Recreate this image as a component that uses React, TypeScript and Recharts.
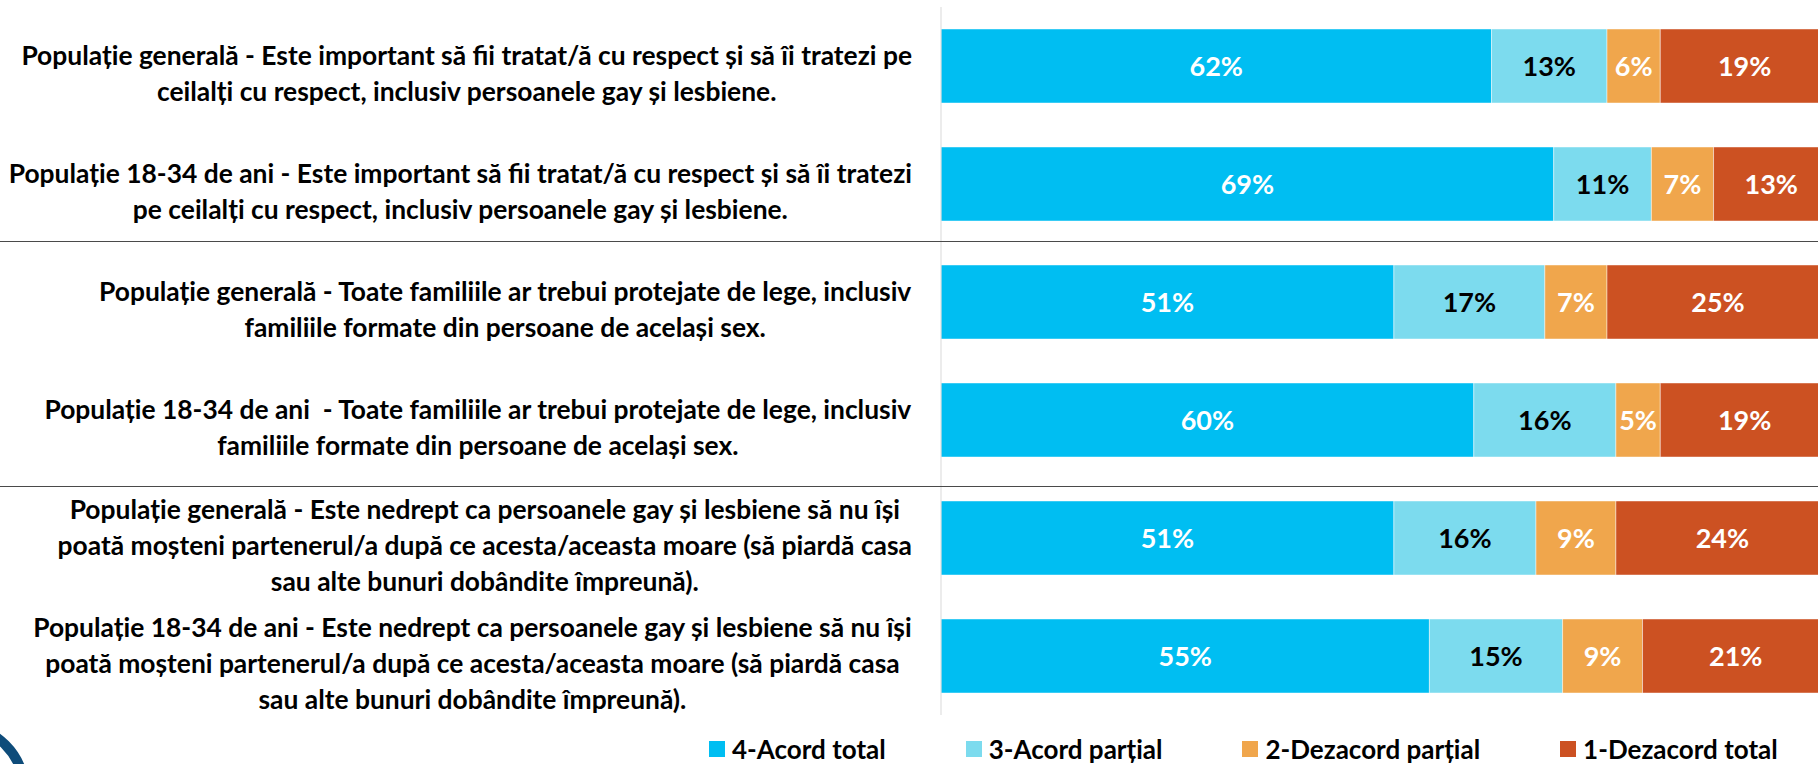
import { BarChart, Bar, XAxis, YAxis, LabelList, Legend } from 'recharts';

const categories = [
  'Populație generală - Este important să fii tratat/ă cu respect și să îi tratezi pe\nceilalți cu respect, inclusiv persoanele gay și lesbiene.',
  'Populație 18-34 de ani - Este important să fii tratat/ă cu respect și să îi tratezi\npe ceilalți cu respect, inclusiv persoanele gay și lesbiene.',
  'Populație generală - Toate familiile ar trebui protejate de lege, inclusiv\nfamiliile formate din persoane de același sex.',
  'Populație 18-34 de ani  - Toate familiile ar trebui protejate de lege, inclusiv\nfamiliile formate din persoane de același sex.',
  'Populație generală - Este nedrept ca persoanele gay și lesbiene să nu își\npoată moșteni partenerul/a după ce acesta/aceasta moare (să piardă casa\nsau alte bunuri dobândite împreună).',
  'Populație 18-34 de ani - Este nedrept ca persoanele gay și lesbiene să nu își\npoată moșteni partenerul/a după ce acesta/aceasta moare (să piardă casa\nsau alte bunuri dobândite împreună).',
];

const acordTotal = [62, 69, 51, 60, 51, 55];
const acordPartial = [13, 11, 17, 16, 16, 15];
const dezacordPartial = [6, 7, 7, 5, 9, 9];
const dezacordTotal = [19, 13, 25, 19, 24, 21];

const series = [
  { key: 'a4', name: '4-Acord total', color: '#00BEF2', text: '#ffffff' },
  { key: 'a3', name: '3-Acord parțial', color: '#7CDBEE', text: '#000000' },
  { key: 'a2', name: '2-Dezacord parțial', color: '#F0A64C', text: '#ffffff' },
  { key: 'a1', name: '1-Dezacord total', color: '#CC5122', text: '#ffffff' },
];

const data = categories.map((name, i) => ({
  name,
  a4: acordTotal[i],
  a3: acordPartial[i],
  a2: dezacordPartial[i],
  a1: dezacordTotal[i],
}));

const FONT = 'Lato, "Open Sans", sans-serif';
const LABEL_SIZE = 26.4;
const LABEL_RIGHT = 912;
const LINE_H = 36;

let ctx: CanvasRenderingContext2D | null = null;
function textWidth(s: string) {
  if (!ctx) ctx = document.createElement('canvas').getContext('2d');
  if (!ctx) return s.length * 12;
  ctx.font = `bold ${LABEL_SIZE}px ${FONT}`;
  return ctx.measureText(s).width;
}

function CategoryTick(props: any) {
  const { y, payload } = props;
  const lines: string[] = String(payload.value).split('\n');
  const w = Math.max(...lines.map(textWidth));
  const cx = LABEL_RIGHT - w / 2;
  const top = y - ((lines.length - 1) * LINE_H) / 2 + 8;
  return (
    <text
      textAnchor="middle"
      fontFamily={FONT}
      fontWeight={700}
      fontSize={LABEL_SIZE}
      fill="#000"
      style={{ whiteSpace: 'pre' }}
    >
      {lines.map((l, i) => (
        <tspan key={i} x={cx} y={top + i * LINE_H} dy="0.35em">
          {l}
        </tspan>
      ))}
    </text>
  );
}

function LegendContent() {
  return (
    <div style={{ display: 'flex', gap: 80, fontFamily: FONT, fontWeight: 700, fontSize: 26, color: '#000', lineHeight: '26px' }}>
      {series.map((s) => (
        <div key={s.key} style={{ display: 'flex', alignItems: 'center', whiteSpace: 'nowrap' }}>
          <span style={{ width: 16, height: 16, background: s.color, marginRight: 7, display: 'inline-block' }} />
          {s.name}
        </div>
      ))}
    </div>
  );
}

export default function App() {
  return (
    <div style={{ position: 'relative', width: 1818, height: 764, overflow: 'hidden', background: '#fff' }}>
      <style>{'body{margin:0}'}</style>
      <BarChart
        width={1830}
        height={764}
        data={data}
        layout="vertical"
        margin={{ top: 7, right: 1, bottom: 49, left: 0 }}
      >
        <XAxis type="number" domain={[0, 100]} hide />
        <YAxis
          type="category"
          dataKey="name"
          width={941}
          interval={0}
          tickLine={false}
          axisLine={{ stroke: '#D9D9D9', strokeWidth: 1 }}
          tick={<CategoryTick />}
        />
        <Legend
          layout="horizontal"
          verticalAlign="middle"
          align="center"
          content={<LegendContent />}
          wrapperStyle={{ top: 736, left: 709, width: 'auto', height: 26 }}
        />
        {series.map((s) => (
          <Bar
            key={s.key}
            dataKey={s.key}
            name={s.name}
            stackId="a"
            fill={s.color}
            stroke="#ffffff"
            strokeOpacity={0.45}
            strokeWidth={1}
            barSize={74}
            isAnimationActive={false}
          >
            <LabelList
              dataKey={s.key}
              position="center"
              formatter={(v: any) => `${v}%`}
              fill={s.text}
              fontFamily={FONT}
              fontWeight={700}
              fontSize={27}
            />
          </Bar>
        ))}
      </BarChart>
      <div style={{ position: 'absolute', left: 0, top: 240.5, width: 1818, height: 1.5, background: '#4a4a4a' }} />
      <div style={{ position: 'absolute', left: 0, top: 485.5, width: 1818, height: 1.5, background: '#4a4a4a' }} />
      <svg style={{ position: 'absolute', left: 0, top: 700 }} width={60} height={64}>
        <circle cx={-40} cy={90} r={64} fill="none" stroke="#0E4C7A" strokeWidth={10} />
      </svg>
    </div>
  );
}
